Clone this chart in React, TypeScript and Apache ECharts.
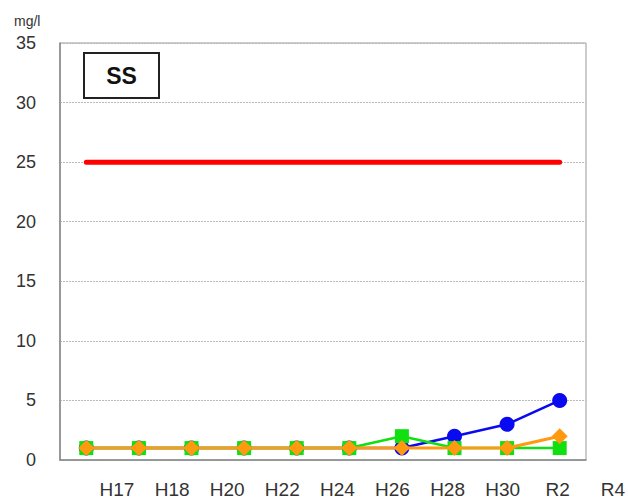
import React, { useEffect, useRef } from "react";
import * as echarts from "echarts";

const years = ["H17", "H18", "H20", "H22", "H24", "H26", "H28", "H30", "R2", "R4"];
const standard = [25, 25, 25, 25, 25, 25, 25, 25, 25, 25];
const blueSeries = [1, 1, 1, 1, 1, 1, 1, 2, 3, 5];
const greenSeries = [1, 1, 1, 1, 1, 1, 2, 1, 1, 1];
const orangeSeries = [1, 1, 1, 1, 1, 1, 1, 1, 1, 2];
const yTicks = { min: 0, max: 35, interval: 5 };
const unitLabel = "mg/l";
const titleLabel = "SS";

export default function App() {
  const ref = useRef<HTMLDivElement>(null);
  useEffect(() => {
    if (!ref.current) return;
    const chart = echarts.init(ref.current, null, { renderer: "svg" });
    const font = "'Liberation Sans', Arial, sans-serif";
    chart.setOption({
      animation: false,
      backgroundColor: "#fff",
      grid: [
        { left: 60, right: 42, top: 43, bottom: 43, show: true, borderColor: "#999", borderWidth: 1 },
        { left: 117, right: 15, top: 43, bottom: 43 },
      ],
      xAxis: [
        {
          type: "category",
          gridIndex: 0,
          data: years,
          boundaryGap: true,
          axisLine: { lineStyle: { color: "#888", width: 1.5 } },
          axisTick: { inside: true, length: 4, lineStyle: { color: "#888" } },
          axisLabel: { show: false },
          splitLine: { show: false },
        },
        {
          type: "category",
          gridIndex: 1,
          data: years,
          boundaryGap: false,
          axisLine: { show: false },
          axisTick: { show: false },
          axisLabel: { color: "#333", fontSize: 19, fontFamily: font, margin: 20 },
          splitLine: { show: false },
        },
      ],
      yAxis: [
        {
          type: "value",
          gridIndex: 0,
          min: yTicks.min,
          max: yTicks.max,
          interval: yTicks.interval,
          axisLine: { show: true, lineStyle: { color: "#888", width: 1.5 } },
          axisTick: { show: false },
          axisLabel: { color: "#333", fontSize: 18, fontFamily: font, margin: 24 },
          splitLine: { show: true, lineStyle: { color: "#bbb", type: [2, 1], width: 1 } },
        },
        { type: "value", gridIndex: 1, show: false },
      ],
      series: [
        {
          type: "line",
          name: "standard",
          data: standard,
          symbol: "none",
          lineStyle: { color: "#ff0000", width: 5, cap: "round" },
          z: 2,
        },
        {
          type: "line",
          name: "blue",
          data: blueSeries,
          symbol: "circle",
          symbolSize: 15,
          itemStyle: { color: "#0a0af0" },
          lineStyle: { color: "#0a0af0", width: 2.5 },
          z: 3,
        },
        {
          type: "line",
          name: "green",
          data: greenSeries,
          symbol: "rect",
          symbolSize: 14,
          itemStyle: { color: "#10e010" },
          lineStyle: { color: "#10e010", width: 2.5 },
          z: 4,
        },
        {
          type: "line",
          name: "orange",
          data: orangeSeries,
          symbol: "diamond",
          symbolSize: 16,
          itemStyle: { color: "#ff9a10" },
          lineStyle: { color: "#ff9a10", width: 3 },
          z: 5,
        },
      ],
      graphic: [
        {
          type: "text",
          left: 14,
          top: 14,
          style: { text: unitLabel, fontSize: 14, fontFamily: font, fill: "#333" },
        },
        {
          type: "group",
          left: 83,
          top: 52,
          children: [
            {
              type: "rect",
              shape: { x: 0, y: 0, width: 75, height: 45 },
              style: { fill: "#fff", stroke: "#222", lineWidth: 2 },
            },
            {
              type: "text",
              x: 37.5,
              y: 23,
              style: {
                text: titleLabel,
                fontSize: 23,
                fontWeight: "bold",
                fontFamily: font,
                fill: "#111",
                align: "center",
                verticalAlign: "middle",
              },
            },
          ],
        },
      ],
    });
    return () => chart.dispose();
  }, []);
  return <div ref={ref} style={{ width: 628, height: 503, position: "absolute", left: 0, top: 0 }} />;
}
